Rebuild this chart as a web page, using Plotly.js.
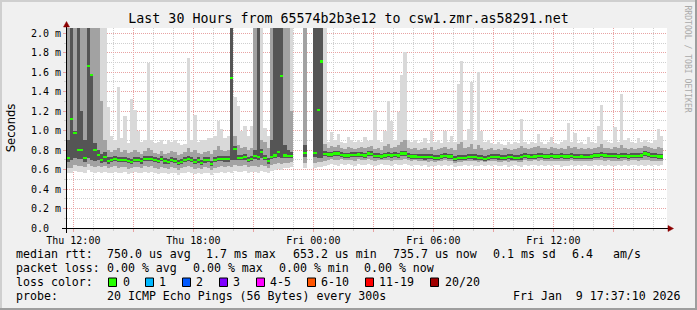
<!DOCTYPE html>
<html><head><meta charset="utf-8">
<script src="https://cdn.plot.ly/plotly-3.0.1.min.js"></script>
<style>html,body{margin:0;padding:0;background:#f0f0f0;}#chart{width:697px;height:310px;}</style>
</head><body><div id="chart"></div>
<script>
// ---- data: 10-minute buckets starting Thu 2026-01-08 11:40 (values in ms) ----
const med = [
0.72,1.12,0.98,0.80,0.80,0.72,1.66,1.57,0.80,0.75,
0.70,0.73,0.69,0.70,0.71,0.70,0.70,0.70,0.69,0.68,
0.70,0.70,0.685,0.71,0.71,0.71,0.70,0.69,0.71,0.685,
0.68,0.70,0.69,0.67,0.68,0.70,0.71,0.70,0.68,0.695,
0.67,0.695,0.70,0.66,0.70,0.71,0.71,0.705,0.705,1.54,
0.81,0.72,0.72,0.725,0.70,0.71,0.74,0.73,0.78,0.72,
0.685,0.73,0.745,0.78,1.56,0.745,0.74,0.74,null,null,
null,0.77,null,null,0.77,1.21,1.71,0.76,0.755,0.755,
0.765,0.765,0.75,0.745,0.745,0.75,0.75,0.755,0.75,0.745,
0.765,0.76,0.74,0.74,0.735,0.745,0.75,0.745,0.75,0.745,
0.765,0.765,0.74,0.735,0.735,0.73,0.73,0.725,0.73,0.73,
0.72,0.72,0.735,0.74,0.735,0.735,0.71,0.72,0.72,0.72,
0.73,0.73,0.725,0.72,0.72,0.71,0.72,0.73,0.73,0.725,
0.72,0.72,0.73,0.725,0.72,0.72,0.725,0.74,0.735,0.73,
0.735,0.74,0.74,0.735,0.735,0.74,0.735,0.735,0.74,0.735,
0.735,0.74,0.73,0.73,0.735,0.73,0.73,0.735,0.745,0.745,
0.75,0.745,0.74,0.74,0.74,0.735,0.74,0.74,0.735,0.74,
0.74,0.74,0.745,0.765,0.755,0.74,0.74,0.735,0.735];
const lo = [
0.56,0.57,0.59,0.58,0.58,0.57,0.60,0.58,0.57,0.58,
0.57,0.58,0.56,0.57,0.58,0.56,0.57,0.58,0.55,0.57,
0.58,0.57,0.56,0.58,0.57,0.58,0.56,0.55,0.57,0.56,
0.55,0.57,0.56,0.54,0.56,0.57,0.58,0.57,0.55,0.56,
0.55,0.57,0.56,0.54,0.56,0.57,0.58,0.57,0.58,0.57,
0.59,0.58,0.58,0.59,0.57,0.58,0.58,0.57,0.59,0.58,
0.56,0.59,0.60,0.61,0.60,0.62,0.62,0.63,null,null,
null,0.62,null,null,0.62,0.63,0.63,0.64,0.65,0.66,
0.65,0.64,0.66,0.65,0.66,0.65,0.64,0.66,0.65,0.65,
0.66,0.65,0.64,0.65,0.66,0.65,0.65,0.64,0.66,0.65,
0.65,0.66,0.65,0.64,0.65,0.65,0.64,0.65,0.63,0.64,
0.64,0.65,0.64,0.65,0.64,0.65,0.63,0.64,0.64,0.65,
0.64,0.65,0.64,0.64,0.65,0.64,0.65,0.64,0.65,0.64,
0.64,0.65,0.63,0.64,0.65,0.64,0.63,0.65,0.64,0.65,
0.65,0.64,0.65,0.64,0.65,0.64,0.65,0.65,0.63,0.64,
0.64,0.65,0.64,0.65,0.64,0.65,0.64,0.64,0.65,0.64,
0.65,0.64,0.65,0.64,0.64,0.65,0.64,0.65,0.64,0.65,
0.65,0.64,0.65,0.64,0.65,0.64,0.65,0.64,0.65];
const lo2 = [
0.62,0.62,0.65,0.64,0.64,0.63,0.66,0.64,0.63,0.64,
0.63,0.64,0.62,0.63,0.64,0.62,0.63,0.63,0.61,0.62,
0.63,0.63,0.62,0.64,0.63,0.64,0.62,0.61,0.63,0.62,
0.61,0.63,0.62,0.60,0.62,0.63,0.64,0.63,0.61,0.62,
0.61,0.63,0.62,0.60,0.62,0.63,0.64,0.63,0.64,0.63,
0.65,0.64,0.64,0.65,0.63,0.64,0.64,0.63,0.65,0.64,
0.62,0.65,0.66,0.67,0.66,0.67,0.67,0.68,null,null,
null,0.67,null,null,0.67,0.68,0.68,0.69,0.70,0.71,
0.70,0.70,0.71,0.70,0.70,0.70,0.69,0.71,0.70,0.70,
0.71,0.70,0.69,0.70,0.70,0.70,0.70,0.69,0.70,0.70,
0.70,0.71,0.70,0.69,0.70,0.69,0.69,0.69,0.68,0.69,
0.68,0.69,0.69,0.70,0.69,0.69,0.67,0.68,0.68,0.69,
0.69,0.69,0.69,0.68,0.69,0.68,0.69,0.69,0.69,0.68,
0.68,0.69,0.68,0.69,0.69,0.68,0.68,0.70,0.69,0.69,
0.70,0.69,0.70,0.69,0.69,0.69,0.69,0.69,0.69,0.69,
0.69,0.70,0.69,0.69,0.69,0.69,0.69,0.69,0.70,0.70,
0.70,0.69,0.70,0.69,0.69,0.69,0.69,0.70,0.69,0.70,
0.70,0.69,0.70,0.70,0.70,0.69,0.69,0.69,0.69];
const lo3 = [
0.68,0.70,0.72,0.71,0.71,0.68,0.72,0.70,0.69,0.70,
0.67,0.68,0.66,0.675,0.685,0.675,0.675,0.675,0.665,0.655,
0.675,0.675,0.66,0.685,0.685,0.685,0.675,0.665,0.685,0.66,
0.655,0.675,0.665,0.645,0.655,0.675,0.685,0.675,0.655,0.67,
0.645,0.67,0.675,0.635,0.675,0.685,0.685,0.68,0.68,0.70,
0.70,0.695,0.695,0.70,0.675,0.685,0.71,0.70,0.72,0.695,
0.66,0.705,0.72,0.73,0.72,0.72,0.715,0.715,null,null,
null,0.73,null,null,0.73,0.72,0.72,0.735,0.73,0.73,
0.74,0.74,0.725,0.72,0.72,0.725,0.725,0.73,0.725,0.72,
0.74,0.735,0.715,0.715,0.71,0.72,0.725,0.72,0.725,0.72,
0.74,0.74,0.715,0.71,0.71,0.705,0.705,0.70,0.705,0.705,
0.695,0.695,0.71,0.715,0.71,0.71,0.685,0.695,0.695,0.695,
0.705,0.705,0.70,0.695,0.695,0.685,0.695,0.705,0.705,0.70,
0.695,0.695,0.705,0.70,0.695,0.695,0.70,0.715,0.71,0.705,
0.71,0.715,0.715,0.71,0.71,0.715,0.71,0.71,0.715,0.71,
0.71,0.715,0.705,0.705,0.71,0.705,0.705,0.71,0.72,0.72,
0.725,0.72,0.715,0.715,0.715,0.71,0.715,0.715,0.71,0.715,
0.715,0.715,0.72,0.74,0.73,0.715,0.715,0.71,0.71];
const hi3 = [
0.90,2.4,1.00,2.4,1.20,0.90,2.4,1.57,0.87,0.80,
0.76,0.78,0.73,0.73,0.74,0.73,0.73,0.73,0.72,0.71,
0.73,0.73,0.715,0.74,0.74,0.74,0.73,0.72,0.74,0.715,
0.71,0.73,0.72,0.70,0.71,0.73,0.74,0.73,0.71,0.725,
0.70,0.725,0.73,0.69,0.73,0.74,0.74,0.735,0.735,2.4,
0.84,0.75,0.75,0.755,0.73,0.74,0.80,2.4,0.81,0.75,
0.72,0.90,2.4,2.4,2.4,0.85,0.80,0.78,null,null,
null,0.85,null,null,2.4,2.4,2.4,0.79,0.785,0.785,
0.795,0.795,0.78,0.775,0.775,0.78,0.78,0.785,0.78,0.775,
0.795,0.79,0.77,0.77,0.765,0.775,0.78,0.775,0.78,0.775,
0.795,0.795,0.77,0.765,0.765,0.76,0.76,0.755,0.76,0.76,
0.75,0.75,0.765,0.77,0.765,0.765,0.74,0.75,0.75,0.75,
0.76,0.76,0.755,0.75,0.75,0.74,0.75,0.76,0.76,0.755,
0.75,0.75,0.76,0.755,0.75,0.75,0.755,0.77,0.765,0.76,
0.765,0.77,0.77,0.765,0.765,0.77,0.765,0.765,0.77,0.765,
0.765,0.77,0.76,0.76,0.765,0.76,0.76,0.765,0.775,0.775,
0.78,0.775,0.77,0.77,0.77,0.765,0.77,0.77,0.765,0.77,
0.77,0.77,0.775,0.795,0.785,0.77,0.77,0.765,0.765];
const hi2 = [
2.4,2.4,2.4,2.4,2.4,2.4,2.4,2.4,2.4,2.4,
1.30,0.90,0.80,0.78,0.80,0.82,0.78,0.80,0.77,0.78,
0.80,0.78,0.76,0.79,0.82,0.80,0.77,0.76,0.79,0.76,
0.77,0.79,0.78,0.75,0.76,0.78,0.82,0.78,0.80,0.77,
0.76,0.78,0.79,0.76,0.80,0.84,0.80,0.79,0.80,2.4,
0.95,0.85,0.82,0.83,0.80,0.82,2.4,2.4,0.90,0.88,
0.82,2.4,2.4,2.4,2.4,2.4,2.4,1.20,null,null,
null,2.4,null,null,2.4,2.4,2.4,0.86,0.82,0.84,
0.83,0.85,0.82,0.81,0.83,0.82,0.81,0.82,0.83,0.82,
0.83,0.84,0.81,0.82,0.80,0.84,0.86,0.82,0.83,0.85,
0.88,0.90,0.82,0.81,0.82,0.80,0.81,0.82,0.80,0.83,
0.80,0.81,0.82,0.83,0.81,0.82,0.80,0.86,0.88,0.82,
0.83,0.86,0.81,0.85,0.82,0.80,0.81,0.82,0.80,0.81,
0.80,0.82,0.81,0.80,0.81,0.82,0.84,0.82,0.81,0.82,
0.83,0.84,0.82,0.82,0.81,0.83,0.82,0.81,0.82,0.81,
0.84,0.82,0.83,0.81,0.82,0.81,0.82,0.81,0.82,0.83,
0.86,0.82,0.82,0.81,0.83,0.82,0.85,0.82,0.81,0.82,
0.81,0.82,0.82,0.84,0.83,0.82,0.81,0.83,0.82];
const hi = [
2.4,2.4,2.4,2.4,2.4,2.4,2.4,2.4,2.4,2.4,
2.4,2.4,1.24,0.95,0.90,1.45,0.92,1.15,0.87,1.33,
1.21,1.00,0.88,0.90,1.69,0.90,0.87,0.88,0.90,0.86,
0.90,0.88,0.90,0.87,0.85,0.86,1.75,0.90,1.16,0.88,
0.90,0.90,0.92,0.92,0.95,1.10,1.02,0.92,0.95,2.4,
1.35,1.25,1.00,1.05,0.95,1.05,2.4,2.4,2.4,1.03,
0.95,2.4,2.4,2.4,2.4,2.4,2.4,2.4,null,null,
null,2.4,null,null,2.4,2.4,2.4,2.4,0.88,0.99,
0.90,0.97,0.88,0.87,0.93,0.90,0.88,0.90,0.88,0.93,
0.89,0.90,1.21,0.90,0.88,1.00,1.30,1.10,0.90,1.19,
1.57,1.81,0.90,0.88,0.90,0.87,0.88,0.92,0.87,1.00,
0.88,0.90,0.87,1.00,0.88,0.95,0.88,1.48,1.72,0.90,
1.02,1.50,0.90,1.60,1.00,0.88,0.90,0.87,0.86,0.88,
0.86,0.85,0.88,0.86,0.88,0.87,1.12,0.88,0.86,0.88,
0.87,0.97,0.88,0.86,0.88,0.93,0.87,0.86,0.88,0.90,
1.08,0.88,0.98,0.87,0.88,0.86,0.93,0.88,0.87,1.05,
1.26,0.90,0.88,0.87,1.04,0.88,1.38,0.90,0.92,0.88,
0.87,0.92,0.88,0.90,0.88,0.87,0.90,1.02,0.95];

const xTickVals = ['2026-01-08 12:00','2026-01-08 15:00','2026-01-08 18:00','2026-01-08 21:00','2026-01-09 00:00','2026-01-09 03:00','2026-01-09 06:00','2026-01-09 09:00','2026-01-09 12:00','2026-01-09 15:00'];
const xTickText = ['Thu 12:00','','Thu 18:00','','Fri 00:00','','Fri 06:00','','Fri 12:00',''];
const yTickVals = [0,0.2,0.4,0.6,0.8,1.0,1.2,1.4,1.6,1.8,2.0];
const yTickText = ['0.0\u00a0\u00a0','0.2 m','0.4 m','0.6 m','0.8 m','1.0 m','1.2 m','1.4 m','1.6 m','1.8 m','2.0 m'];
const lossLabels = ['0','1','2','3','4-5','6-10','11-19','20/20'];
const lossColors = ['#26ff00','#00b8ff','#0059ff','#7e00ff','#ff00ff','#ff5500','#ff0000','#a10000'];
const rttStats = ['750.0 us avg','1.7 ms max','653.2 us min','735.7 us now','0.1 ms sd','6.4','am/s'];
const lossStats = ['0.00 % avg','0.00 % max','0.00 % min','0.00 % now'];
const probeText = '20 ICMP Echo Pings (56 Bytes) every 300s';
const stamp = 'Fri Jan\u00a0\u00a09 17:37:10 2026';

// ---- geometry helpers ----
const W=697,H=310,L=67,R=30,T=28,B=82;
const PW=W-L-R, PH=H-T-B;
const px = x => (x-L)/PW;
const py = y => (H-B-y)/PH;

const t0 = Date.UTC(2026,0,8,11,40), step = 600000;
const xs = med.map((_,i)=> t0 + (i+0.5)*step);
function band(a,b,color){
  return {type:'bar', x:xs, base:a, y:b.map((v,i)=> (v==null||a[i]==null)?null:v-a[i]),
    width:step, marker:{color:color, line:{width:0}}, hoverinfo:'skip', showlegend:false};
}
const MT = 0.022;
const traces = [
  band(lo,hi,'#d9d9d9'),
  band(lo2,hi2,'#a2a2a2'),
  band(lo3,hi3,'#555555'),
  {type:'bar', x:xs, base:med.map(v=>v==null?null:v-MT/2), y:med.map(v=>v==null?null:MT),
   width:step, marker:{color:'#26ff00', line:{width:0}}, hoverinfo:'skip', showlegend:false}
];

const mono = 'DejaVu Sans Mono';
const ann = [];
function txt(x,y,t,size,extra){
  ann.push(Object.assign({xref:'paper',yref:'paper',x:px(x),y:py(y),text:t,showarrow:false,
    xanchor:'left',yanchor:'middle',borderpad:0,borderwidth:0,
    font:{family:mono,size:size||11.6,color:'#000'}},extra||{}));
}
const rttX = [106.5,205.5,292.5,392.5,492.5,571.5,613];
txt(15.5,254.3,'median rtt:');
rttStats.forEach((s,i)=>txt(rttX[i],254.3,s));
const lossX = [106.5,192.5,278.5,364.2];
txt(15.5,268.3,'packet loss:');
lossStats.forEach((s,i)=>txt(lossX[i],268.3,s));
txt(15.5,282.3,'loss color:');
const boxX = [108.5,145.5,182.5,219.5,256.5,307.5,365.5,430.5];
const lblX = [123.2,158.7,195.9,233.2,269.9,321.2,379.4,444.9];
lossLabels.forEach((s,i)=>txt(lblX[i],282.3,s));
txt(15.5,296,'probe:');
txt(106.5,296,probeText);
txt(512.7,296,stamp);
ann.push({xref:'paper',yref:'paper',x:px(10.8),y:py(127.5),text:'Seconds',textangle:-90,showarrow:false,
  xanchor:'center',yanchor:'middle',borderpad:0,borderwidth:0,font:{family:'DejaVu Sans',size:11.6,color:'#000'}});
ann.push({xref:'paper',yref:'paper',x:px(687.5),y:py(59),text:'RRDTOOL / TOBI OETIKER',textangle:90,showarrow:false,
  xanchor:'center',yanchor:'middle',borderpad:0,borderwidth:0,font:{family:mono,size:8.1,color:'#aaaaaa'}});

const shapes = [];
function line(x0,y0,x1,y1,color,w){shapes.push({type:'line',xref:'paper',yref:'paper',x0:px(x0),y0:py(y0),x1:px(x1),y1:py(y1),line:{color:color,width:w||1}});}
function poly(pts,color){shapes.push({type:'path',xref:'paper',yref:'paper',
  path:'M'+pts.map(p=>px(p[0])+','+py(p[1])).join('L')+'Z',fillcolor:color,line:{color:color,width:0.5}});}
// axes
line(62,228.5,669,228.5,'#000');
line(66.5,233,66.5,26,'#000');
poly([[63.5,27],[69.5,27],[66.5,21.5]],'#8b0000');
poly([[668,225.5],[668,231.5],[673.5,228.5]],'#8b0000');
// legend boxes
boxX.forEach((x,i)=>shapes.push({type:'rect',xref:'paper',yref:'paper',x0:px(x),x1:px(x+8),y0:py(278),y1:py(286.5),
  fillcolor:lossColors[i],line:{color:'#000',width:1}}));
// frame
line(0,1,697,1,'#cfcfcf',2);
line(1,0,1,310,'#cfcfcf',2);
line(0,309,697,309,'#9e9e9e',2);
line(696,0,696,310,'#9e9e9e',2);

const gridMajor = '#e8a3a3', gridMinor = '#cfcfcf';
const layout = {
  width:W, height:H, margin:{l:L,r:R,t:T,b:B,pad:0},
  paper_bgcolor:'#f0f0f0', plot_bgcolor:'#ffffff',
  barmode:'overlay', bargap:0, showlegend:false,
  title:{text:'Last 30 Hours from 65574b2b3e12 to csw1.zmr.as58291.net',
    font:{family:mono,size:13.3,color:'#000'},xref:'container',x:348.5/W,xanchor:'center',
    yref:'container',y:1-18.7/H,yanchor:'middle'},
  xaxis:{type:'date', range:[Date.UTC(2026,0,8,11,41),Date.UTC(2026,0,9,17,41)],
    tickmode:'array', tickvals:xTickVals, ticktext:xTickText,
    ticks:'outside', ticklen:3, tickcolor:gridMajor, tickfont:{family:mono,size:10,color:'#000'},
    showgrid:true, gridcolor:gridMajor, griddash:'1px,1px', gridwidth:1,
    minor:{tickmode:'linear', tick0:'2026-01-08 12:00', dtick:3600000, showgrid:true, gridcolor:gridMinor,
      griddash:'1px,1px', gridwidth:1, ticks:'outside', ticklen:2, tickcolor:gridMinor},
    showline:false, zeroline:false, fixedrange:true},
  yaxis:{range:[0,2.054], tickmode:'array', tickvals:yTickVals, ticktext:yTickText,
    ticks:'outside', ticklen:3, tickcolor:gridMajor, tickfont:{family:mono,size:10,color:'#000'},
    showgrid:true, gridcolor:gridMajor, griddash:'1px,1px', gridwidth:1,
    minor:{tickmode:'linear', tick0:0, dtick:0.1, showgrid:true, gridcolor:gridMinor,
      griddash:'1px,1px', gridwidth:1, ticks:'outside', ticklen:2, tickcolor:gridMinor},
    showline:false, zeroline:false, fixedrange:true},
  annotations:ann, shapes:shapes
};
Plotly.newPlot('chart', traces, layout, {displayModeBar:false, staticPlot:true});
</script></body></html>
